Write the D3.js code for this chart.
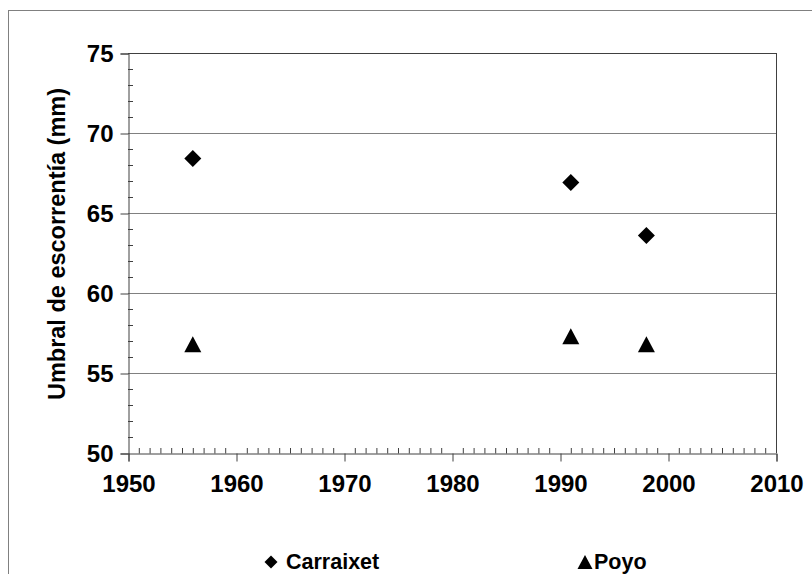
<!DOCTYPE html>
<html><head><meta charset="utf-8">
<script src="https://cdn.jsdelivr.net/npm/d3@7"></script>
<style>body{margin:0;background:#fff}svg{display:block}text{font-family:"Liberation Sans",Arial,sans-serif;font-weight:bold;fill:#000}</style>
</head><body>
<script>
const years = [1956, 1991, 1998];
const carraixet = [68.4, 66.9, 63.6];
const poyo = [56.8, 57.3, 56.8];
const seriesNames = ["Carraixet", "Poyo"];
const xTicks = [1950, 1960, 1970, 1980, 1990, 2000, 2010];
const yTicks = [50, 55, 60, 65, 70, 75];
const yTitle = "Umbral de escorrentía (mm)";

const W = 812, H = 574;
const svg = d3.select("body").append("svg").attr("width", W).attr("height", H);
svg.append("rect").attr("x", 8.5).attr("y", 10.5).attr("width", 830).attr("height", 600)
  .attr("fill", "#fff").attr("stroke", "#808080");

const L = 128, R = 776, T = 53, B = 453;
const x = d3.scaleLinear().domain([1950, 2010]).range([L, R]);
const y = d3.scaleLinear().domain([50, 75]).range([B, T]);

// gridlines
svg.append("g").selectAll("line").data(yTicks.filter(v => v > 50 && v < 75)).join("line")
  .attr("x1", L).attr("x2", R).attr("y1", d => y(d) + 0.5).attr("y2", d => y(d) + 0.5)
  .attr("stroke", "#808080").attr("stroke-width", 1);
// plot border top & right
svg.append("line").attr("x1", L).attr("x2", R + 0.5).attr("y1", T + 0.5).attr("y2", T + 0.5).attr("stroke", "#404040");
svg.append("line").attr("x1", R + 0.5).attr("x2", R + 0.5).attr("y1", T).attr("y2", B).attr("stroke", "#404040");

// y axis
const yAxis = svg.append("g").attr("transform", `translate(${L + 0.5},0.5)`)
  .call(d3.axisLeft(y).tickValues(yTicks).tickSize(8).tickPadding(7).tickFormat(d3.format("d")));
yAxis.select(".domain").attr("stroke", "#404040");
yAxis.selectAll(".tick line").attr("stroke", "#404040");
yAxis.selectAll("text").style("font-size", "24px").attr("dy", "0.35em");
const yMinor = d3.range(50, 75.01, 1).filter(v => v % 5 !== 0);
svg.append("g").selectAll("line").data(yMinor).join("line")
  .attr("x1", L).attr("x2", L + 5).attr("y1", d => y(d) + 0.5).attr("y2", d => y(d) + 0.5)
  .attr("stroke", "#404040");

// x axis
const xAxis = svg.append("g").attr("transform", `translate(0.5,${B + 0.5})`)
  .call(d3.axisBottom(x).tickValues(xTicks).tickSize(8).tickPadding(13).tickFormat(d3.format("d")));
xAxis.select(".domain").attr("stroke", "#404040");
xAxis.selectAll(".tick line").attr("stroke", "#404040");
xAxis.selectAll("text").style("font-size", "24px");
const xMinor = d3.range(1951, 2010, 1).filter(v => v % 10 !== 0);
svg.append("g").selectAll("line").data(xMinor).join("line")
  .attr("x1", d => x(d) + 0.5).attr("x2", d => x(d) + 0.5).attr("y1", B + 0.5).attr("y2", B - 5)
  .attr("stroke", "#404040");

// y title
svg.append("text").attr("transform", `translate(65,244) rotate(-90)`)
  .attr("text-anchor", "middle").style("font-size", "23.5px").text(yTitle);

function diamondPath(s) { return `M0,${-s}L${s},0L0,${s}L${-s},0Z`; }
function triPath(w, h) { return `M0,${-h / 2}L${w / 2},${h / 2}L${-w / 2},${h / 2}Z`; }

svg.append("g").selectAll("path").data(years.map((yr, i) => [yr, carraixet[i]])).join("path")
  .attr("transform", d => `translate(${x(d[0])},${y(d[1])})`)
  .attr("d", diamondPath(8.5)).attr("fill", "#000");
svg.append("g").selectAll("path").data(years.map((yr, i) => [yr, poyo[i]])).join("path")
  .attr("transform", d => `translate(${x(d[0])},${y(d[1])})`)
  .attr("d", triPath(17, 16)).attr("fill", "#000");

// legend
const lg = svg.append("g");
lg.append("path").attr("transform", "translate(271,562)").attr("d", diamondPath(6.5)).attr("fill", "#000");
lg.append("text").attr("x", 286).attr("y", 561).attr("dy", "0.35em").style("font-size", "21.5px").text(seriesNames[0]);
lg.append("path").attr("transform", "translate(585,562)").attr("d", triPath(15, 14)).attr("fill", "#000");
lg.append("text").attr("x", 594).attr("y", 561).attr("dy", "0.35em").style("font-size", "21.5px").text(seriesNames[1]);
</script>
</body></html>
